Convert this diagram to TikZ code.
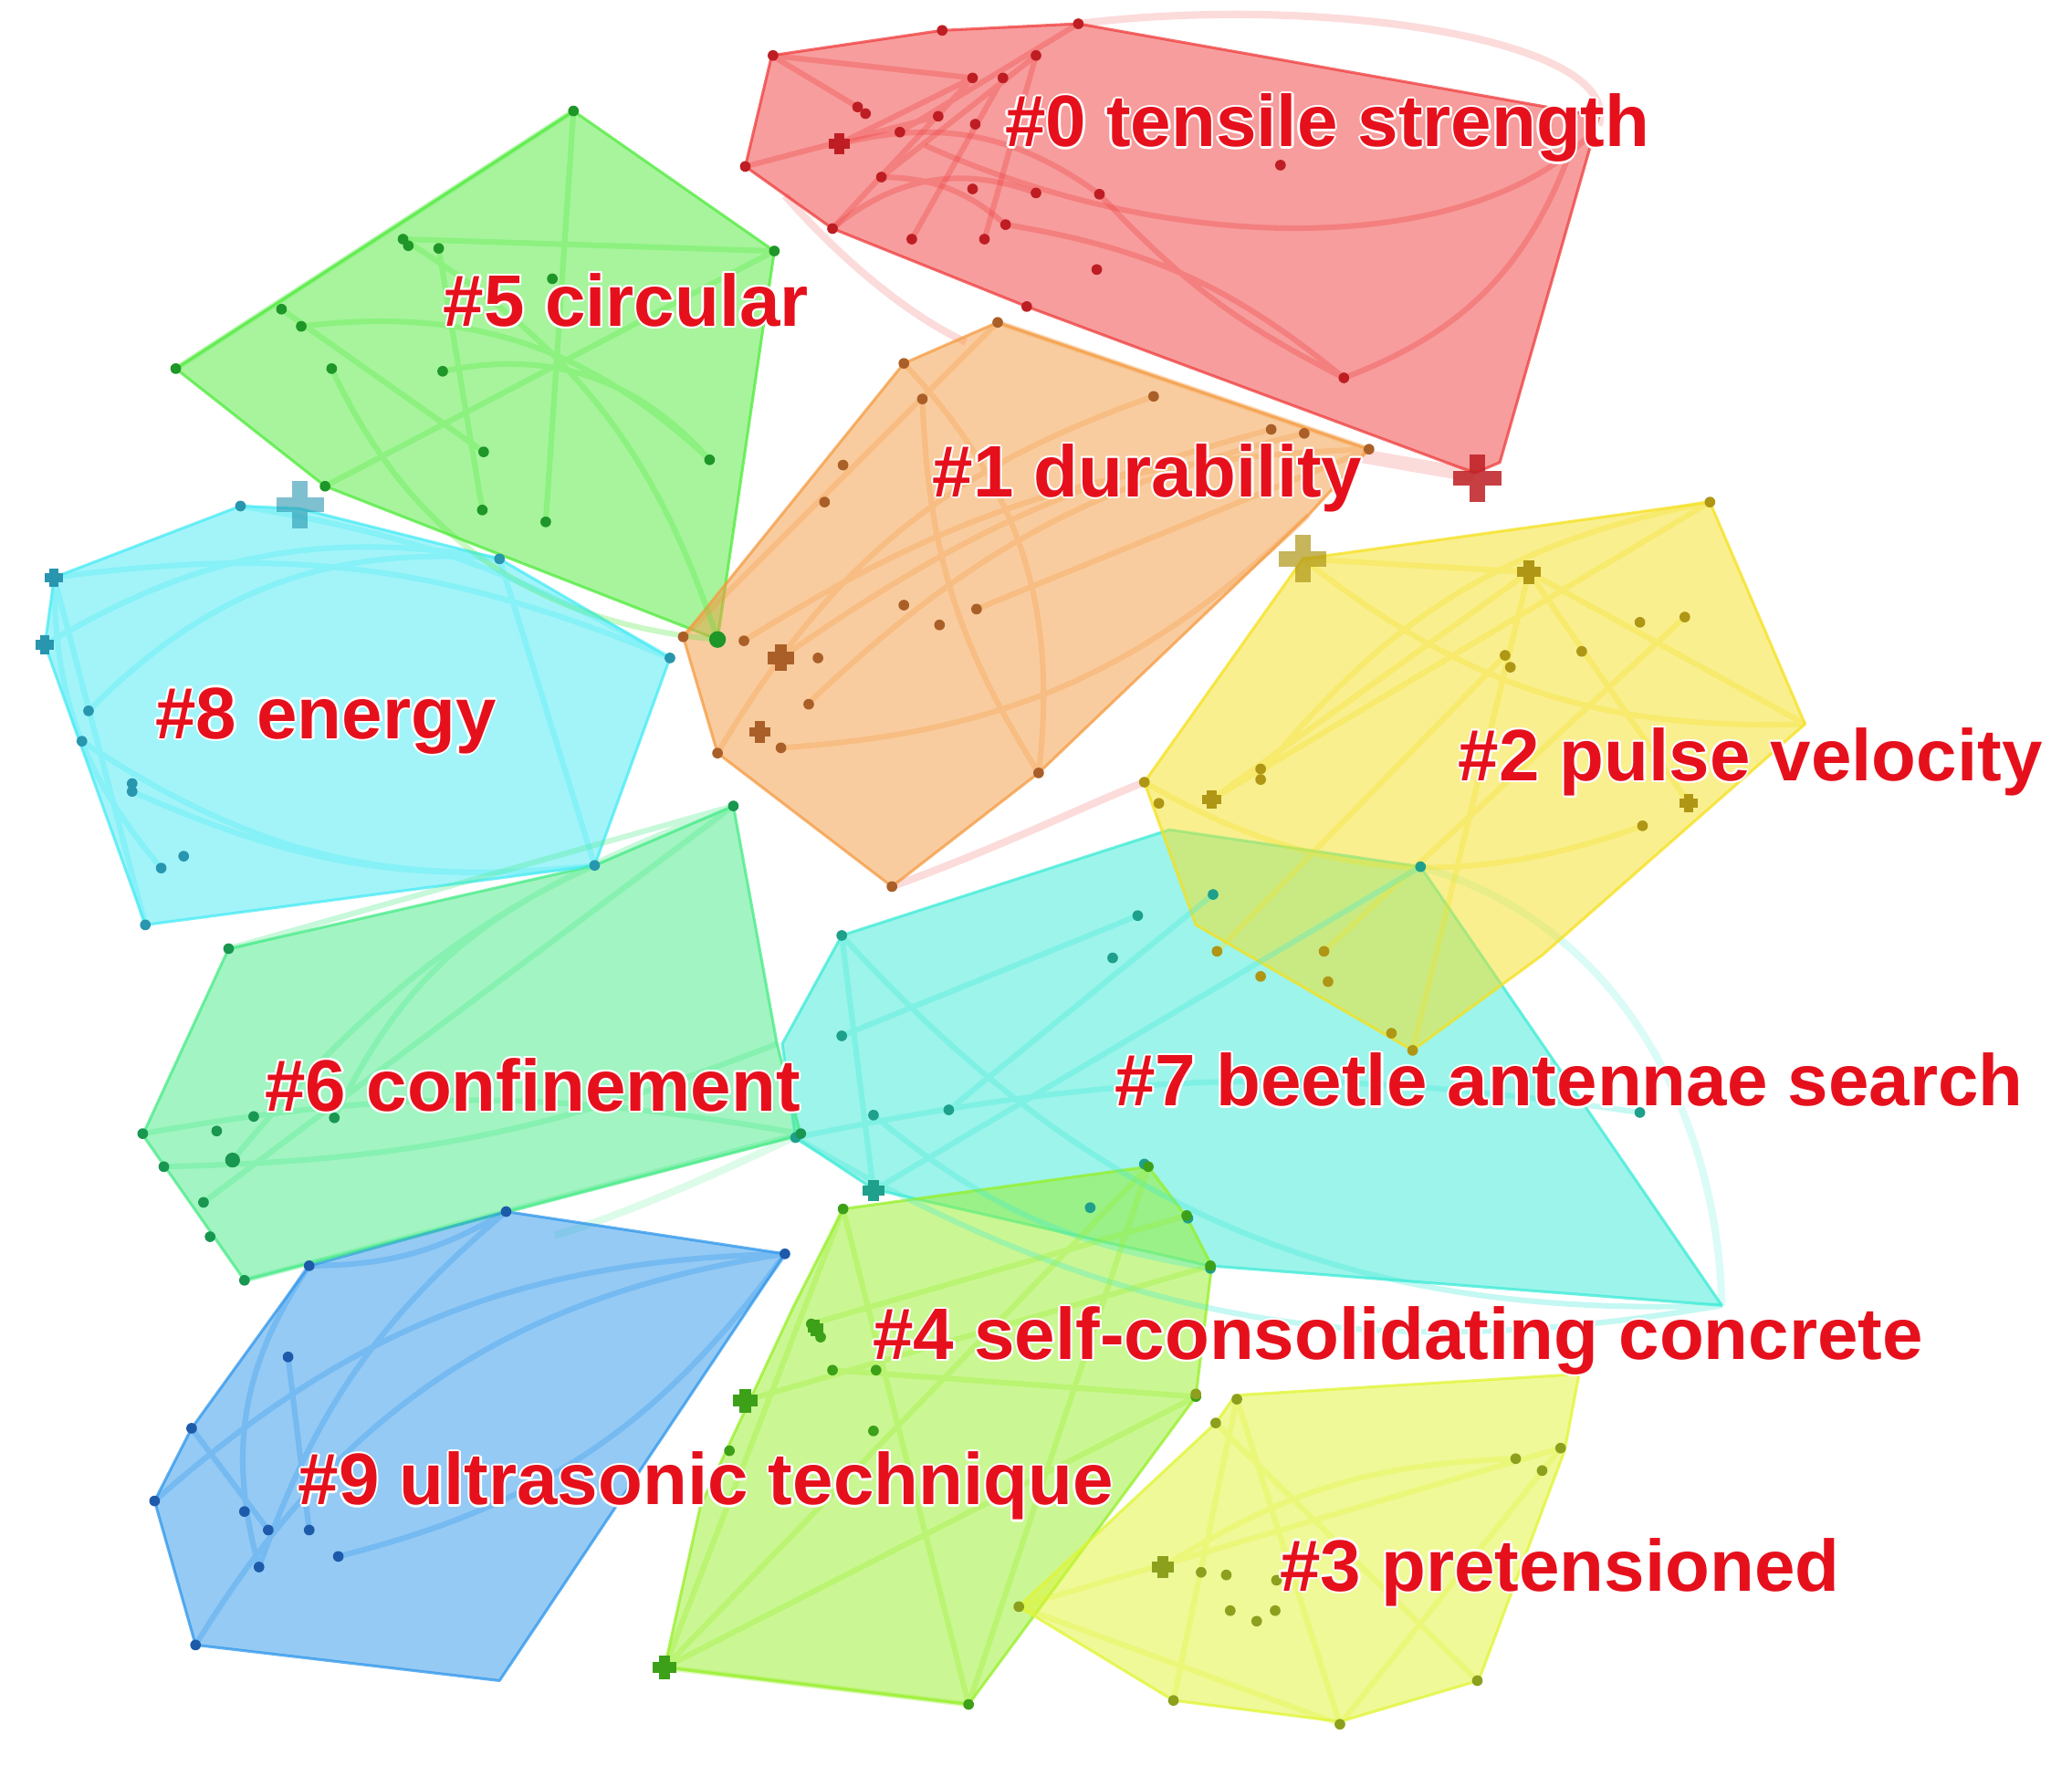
\documentclass[tikz,border=0pt]{standalone}
\usepackage{fontspec}
\newfontfamily\labfam{Liberation Sans}
\definecolor{c0}{RGB}{240,60,60}\definecolor{d0}{RGB}{190,30,35}
\definecolor{c1}{RGB}{245,155,65}\definecolor{d1}{RGB}{170,95,40}
\definecolor{c2}{RGB}{245,225,30}\definecolor{d2}{RGB}{175,150,20}
\definecolor{c3}{RGB}{225,245,50}\definecolor{d3}{RGB}{140,160,30}
\definecolor{c4}{RGB}{150,240,40}\definecolor{d4}{RGB}{60,160,25}
\definecolor{c5}{RGB}{80,235,60}\definecolor{d5}{RGB}{30,150,40}
\definecolor{c6}{RGB}{70,235,135}\definecolor{d6}{RGB}{25,150,80}
\definecolor{c7}{RGB}{60,235,215}\definecolor{d7}{RGB}{30,160,140}
\definecolor{c8}{RGB}{70,235,245}\definecolor{d8}{RGB}{40,150,175}
\definecolor{c9}{RGB}{45,150,235}\definecolor{d9}{RGB}{30,90,170}
\definecolor{labred}{RGB}{230,16,28}
\tikzset{
  hull/.style={fill=#1, fill opacity=0.5, draw=#1, draw opacity=0.75, line width=0.6pt, line join=round},
  lk/.style={draw=#1, draw opacity=0.3, line width=1.2pt},
  flk/.style={draw=#1, draw opacity=0.18, line width=1.6pt},
  lab/.style={font=\labfam\bfseries\fontsize{15.7}{18}\selectfont, text=labred, anchor=base west, inner sep=0pt}
}
\newcommand\dotset[2]{\foreach \a/\b in {#2}{\fill[#1] (\a,\b) circle[radius=1.15pt];}}
\newcommand\crossmark[5]{\draw[#1,line width=#5] (#2-#4,#3) -- (#2+#4,#3) (#2,#3-#4) -- (#2,#3+#4);}
\newcommand\clabel[4]{%
  \foreach \dx/\dy in {-1.6/0,1.6/0,0/-1.6,0/1.6,-1.1/-1.1,1.1/1.1,-1.1/1.1,1.1/-1.1}{\node[lab,text=white] at (#2+\dx,#3+\dy) {#4};}
  \node[lab] (#1) at (#2,#3) {#4};}
\begin{document}
\begin{tikzpicture}[x=0.01cm,y=-0.01cm]
\useasboundingbox (0,0) rectangle (1568,1352);
\fill[white] (0,0) rectangle (1568,1352);

% faint inter-cluster links
\draw[flk=c0] (816,18) .. controls (1000,-5) and (1230,30) .. (1210,95);
\draw[flk=c0] (594,148) .. controls (640,200) and (690,240) .. (731,259);
\draw[flk=c0, line width=3pt] (1030,345) -- (1116,360);
\draw[flk=c0] (675,671) .. controls (760,640) and (820,610) .. (866,592);
\draw[flk=c7] (1075,656) .. controls (1230,700) and (1300,850) .. (1303,988);
\draw[flk=c6] (606,858) .. controls (540,890) and (470,920) .. (420,935);

% hulls
\path[hull=c7] (637,708) -- (885,628) -- (1075,656) -- (1303,988) -- (915,958) -- (661,900) -- (602,861) -- (592,790) -- cycle;
\path[hull=c2] (986,423) -- (1294,380) -- (1366,548) -- (1167,723) -- (1069,795) -- (905,700) -- (866,592) -- cycle;
\path[hull=c4] (638,915) -- (869,883) -- (898,921) -- (917,958) -- (905,1057) -- (733,1290) -- (503,1262) -- (530,1140) -- (600,990) -- cycle;
\path[hull=c3] (935,1056) -- (1195,1040) -- (1184,1098) -- (1119,1272) -- (1014,1303) -- (888,1287) -- (771,1216) -- (920,1077) -- cycle;
\path[hull=c6] (555,610) -- (588,790) -- (606,859) -- (185,969) -- (108,859) -- (173,718) -- (450,655) -- cycle;
\path[hull=c9] (383,917) -- (594,949) -- (378,1272) -- (148,1245) -- (117,1136) -- (145,1081) -- (234,958) -- cycle;
\path[hull=c8] (41,437) -- (182,383) -- (227,385) -- (378,423) -- (507,498) -- (450,655) -- (110,700) -- (34,488) -- cycle;
\path[hull=c5] (434,84) -- (586,190) -- (543,484) -- (246,368) -- (133,279) -- cycle;
\path[hull=c1] (755,244) -- (1036,340) -- (990,390) -- (786,585) -- (675,671) -- (543,570) -- (517,482) -- (684,275) -- cycle;
\path[hull=c0] (584,42) -- (713,23) -- (816,18) -- (1210,88) -- (1135,350) -- (1116,358) -- (777,232) -- (630,173) -- (564,126) -- cycle;

% links inside clusters
\draw[lk=c0] (584,42) -- (649,81) (584,42) -- (736,59) (635,109) -- (736,59) (630,173) -- (736,59) (667,134) -- (784,42) (681,100) -- (816,18) (564,126) -- (710,88) (690,181) -- (759,59) (745,181) -- (784,42);
\draw[lk=c0] (635,109) to[bend left=25] (832,147) (667,134) to[bend left=20] (761,170) (630,173) to[bend left=30] (784,146);
\draw[lk=c0] (700,110) .. controls (900,200) and (1120,190) .. (1205,100);
\draw[lk=c0] (761,170) to[bend left=15] (1017,286) (832,147) to[bend right=10] (1017,286) (1017,286) to[bend right=25] (1190,110);
\draw[lk=c5] (305,181) to[bend left=20] (543,484) (228,247) to[bend left=25] (537,348) (434,84) -- (413,395) (246,368) -- (586,190) (133,279) -- (434,84) (213,234) -- (366,342) (332,188) -- (365,386) (251,279) to[bend right=30] (543,484) (305,181) -- (586,190) (335,281) to[bend left=30] (537,348);
\draw[lk=c8] (41,437) to[bend left=15] (507,498) (34,488) to[bend left=20] (378,423) (100,599) to[bend right=15] (450,655) (62,561) to[bend right=20] (450,655) (110,700) -- (41,437) (378,423) -- (450,655) (182,383) to[bend left=10] (507,498) (67,538) to[bend left=25] (378,423) (41,437) to[bend right=20] (122,657);
\draw[lk=c1] (563,485) to[bend left=15] (1036,340) (591,498) to[bend left=10] (962,325) (543,570) to[bend left=20] (873,300) (684,275) to[bend left=25] (786,585) (611,533) to[bend left=15] (987,328) (755,244) -- (1036,340) (591,566) to[bend right=20] (990,390) (517,482) -- (755,244) (698,302) to[bend right=15] (786,585) (739,461) -- (1036,340);
\draw[lk=c2] (1157,433) -- (986,423) (1157,433) -- (1366,548) (1157,433) -- (917,605) (1157,433) -- (1278,608) (1157,433) -- (1069,795) (986,423) to[bend right=20] (1366,548) (917,605) -- (1294,380) (866,592) to[bend right=25] (1243,625) (954,586) to[bend left=20] (1294,380) (921,720) -- (1139,496) (1002,720) -- (1275,467);
\draw[lk=c7] (637,708) to[bend right=25] (1303,988) (602,861) to[bend left=10] (1241,842) (661,901) -- (1075,656) (661,844) to[bend right=15] (916,960) (637,784) -- (861,693) (661,901) -- (637,708) (718,840) -- (918,677) (602,861) to[bend right=20] (1303,988);
\draw[lk=c6] (108,858) to[bend left=10] (606,858) (173,718) -- (555,610) (176,878) to[bend left=15] (555,610) (185,969) -- (606,858) (124,883) to[bend right=10] (588,790) (253,846) to[bend left=20] (450,655) (154,910) -- (555,610);
\draw[lk=c9] (234,958) to[bend right=15] (383,917) (148,1245) to[bend left=25] (594,949) (117,1136) to[bend left=20] (594,949) (256,1178) to[bend right=20] (594,949) (383,917) to[bend right=15] (196,1186) (218,1027) -- (234,1158) (145,1081) -- (203,1158) (234,958) to[bend right=25] (196,1186);
\draw[lk=c4] (503,1262) -- (638,915) (503,1262) -- (869,883) (503,1262) -- (905,1057) (733,1290) -- (638,915) (564,1060) -- (916,958) (503,1262) -- (733,1290) (614,1002) -- (898,920) (630,1037) -- (905,1057) (733,1290) -- (869,883);
\draw[lk=c3] (771,1216) -- (1181,1096) (888,1287) -- (936,1059) (1014,1305) -- (1181,1096) (920,1077) -- (1118,1272) (771,1216) -- (1014,1305) (880,1186) to[bend left=15] (1147,1104) (1014,1305) -- (936,1059);

% nodes
\dotset{d0}{585/42, 713/23, 816/18, 784/42, 736/59, 759/59, 649/81, 655/86, 710/88, 738/94, 681/100, 667/134, 736/143, 784/146, 832/147, 969/125, 630/173, 690/181, 745/181, 761/170, 830/204, 777/232, 1017/286, 564/126}
\dotset{d5}{434/84, 586/190, 305/181, 309/186, 332/188, 213/234, 228/247, 418/211, 133/279, 251/279, 335/281, 366/342, 537/348, 246/368, 365/386, 413/395, 543/484}
\dotset{d8}{182/383, 378/423, 507/498, 67/538, 62/561, 100/593, 100/599, 139/648, 122/657, 450/655, 110/700}
\dotset{d1}{755/244, 684/275, 698/302, 873/300, 962/325, 987/328, 1036/340, 638/352, 624/380, 684/458, 739/461, 711/473, 517/482, 563/485, 619/498, 612/533, 543/570, 591/566, 786/585, 675/671}
\dotset{d2}{1294/380, 1241/471, 1275/467, 1139/496, 1143/505, 1197/493, 954/582, 954/590, 866/592, 877/608, 1243/625, 921/720, 1002/720, 954/739, 1005/743, 1053/782, 1069/795}
\dotset{d7}{1075/656, 918/677, 861/693, 637/708, 842/725, 637/784, 661/844, 718/840, 602/861, 1241/842, 866/881, 825/914, 899/922, 916/960}
\dotset{d6}{555/610, 173/718, 192/845, 253/846, 164/856, 108/858, 176/878, 124/883, 154/910, 159/936, 185/969, 606/858}
\dotset{d9}{383/917, 234/958, 594/949, 218/1027, 145/1081, 117/1136, 185/1144, 203/1158, 234/1158, 196/1186, 256/1178, 148/1245}
\dotset{d4}{638/915, 869/883, 898/920, 916/958, 614/1002, 621/1012, 630/1037, 663/1037, 661/1083, 552/1098, 905/1057, 733/1290}
\dotset{d3}{905/1055, 936/1059, 920/1077, 1181/1096, 1147/1104, 1167/1113, 909/1190, 928/1192, 966/1196, 771/1216, 931/1219, 951/1227, 965/1219, 1118/1272, 888/1287, 1014/1305}
\fill[d5] (543,484) circle[radius=1.8pt];
\fill[d6] (176,878) circle[radius=1.6pt];

% crosses
\crossmark{d0}{635}{109}{8}{2.2pt}
\crossmark{d0, opacity=0.85}{1118}{362}{18}{3.2pt}
\crossmark{d8, opacity=0.6}{227}{382}{18}{3.2pt}
\crossmark{d8}{41}{437}{7}{2pt}
\crossmark{d8}{34}{488}{7}{2pt}
\crossmark{d1}{591}{498}{10}{2.6pt}
\crossmark{d1}{575}{554}{8}{2pt}
\crossmark{d2, opacity=0.7}{986}{423}{18}{3.2pt}
\crossmark{d2}{1157}{433}{9}{2.2pt}
\crossmark{d2}{917}{605}{7}{2pt}
\crossmark{d2}{1278}{608}{7}{2pt}
\crossmark{d7}{661}{901}{8}{2.2pt}
\crossmark{d4}{564}{1060}{9}{2.4pt}
\crossmark{d4}{503}{1262}{9}{2.4pt}
\crossmark{d4}{617}{1005}{6}{2pt}
\crossmark{d3}{880}{1186}{8}{2.2pt}

% labels
\clabel{l0}{760}{111}{\#0 tensile strength}
\clabel{l5}{335}{247}{\#5 circular}
\clabel{l1}{705}{376}{\#1 durability}
\clabel{l8}{117}{559}{\#8 energy}
\clabel{l2}{1103}{591}{\#2 pulse velocity}
\clabel{l7}{843}{837}{\#7 beetle antennae search}
\clabel{l6}{200}{841}{\#6 confinement}
\clabel{l4}{660}{1029}{\#4 self-consolidating concrete}
\clabel{l9}{225}{1139}{\#9 ultrasonic technique}
\clabel{l3}{968}{1204}{\#3 pretensioned}
\end{tikzpicture}
\end{document}
